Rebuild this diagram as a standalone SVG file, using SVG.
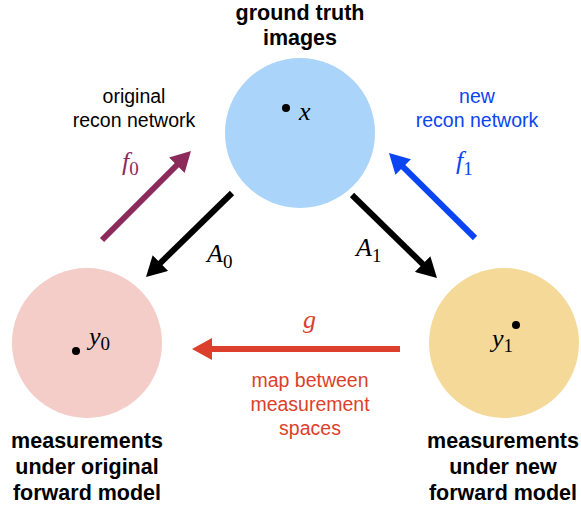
<svg xmlns="http://www.w3.org/2000/svg" width="581" height="506" viewBox="0 0 581 506">
<style>
.bold{font-family:"Liberation Sans",Arial,sans-serif;font-weight:bold;font-size:21.5px;fill:#000;text-anchor:middle}
.lab{font-family:"Liberation Sans",Arial,sans-serif;font-size:19.5px;text-anchor:middle}
.math{font-family:"Liberation Serif","Times New Roman",serif;font-style:italic;font-size:26px}
.sub{font-family:"Liberation Serif","Times New Roman",serif;font-style:normal;font-size:19px}
.arr{stroke-width:6;fill:none}
</style>
<defs>
<marker id="hk" markerUnits="userSpaceOnUse" viewBox="0 0 20 22" markerWidth="20" markerHeight="22" refX="8" refY="11" orient="auto"><path d="M0,0 L20,11 L0,22 z" fill="#000"/></marker>
<marker id="hp" markerUnits="userSpaceOnUse" viewBox="0 0 20 22" markerWidth="20" markerHeight="22" refX="8" refY="11" orient="auto"><path d="M0,0 L20,11 L0,22 z" fill="#8c2a5c"/></marker>
<marker id="hb" markerUnits="userSpaceOnUse" viewBox="0 0 20 22" markerWidth="20" markerHeight="22" refX="8" refY="11" orient="auto"><path d="M0,0 L20,11 L0,22 z" fill="#0b44f2"/></marker>
<marker id="hr" markerUnits="userSpaceOnUse" viewBox="0 0 20 22" markerWidth="20" markerHeight="22" refX="8" refY="11" orient="auto"><path d="M0,0 L20,11 L0,22 z" fill="#dc3f2b"/></marker>
</defs>
<rect width="581" height="506" fill="#fff"/>

<g id="node-x">
<text class="bold" x="300" y="20">ground truth</text>
<text class="bold" x="300" y="45">images</text>
<circle cx="300" cy="133" r="75" fill="#aad4f9"/>
<circle cx="286" cy="108" r="4" fill="#000"/>
<text class="math" x="299" y="120">x</text>
</g>

<g id="node-y0">
<circle cx="87" cy="343" r="75" fill="#f4cdc8"/>
<circle cx="76" cy="351" r="4" fill="#000"/>
<text class="math" x="89" y="345">y<tspan class="sub" dy="5">0</tspan></text>
<text class="bold" x="87" y="448">measurements</text>
<text class="bold" x="87" y="474">under original</text>
<text class="bold" x="87" y="500">forward model</text>
</g>

<g id="node-y1">
<circle cx="504" cy="343" r="75" fill="#f5d999"/>
<circle cx="516" cy="325" r="4" fill="#000"/>
<text class="math" x="492" y="347">y<tspan class="sub" dy="5">1</tspan></text>
<text class="bold" x="503" y="448">measurements</text>
<text class="bold" x="503" y="474">under new</text>
<text class="bold" x="503" y="500">forward model</text>
</g>

<g id="connectors">
<line class="arr" x1="102" y1="240" x2="182.5" y2="159.5" stroke="#8c2a5c" marker-end="url(#hp)"/>
<line class="arr" x1="232" y1="193" x2="154.6" y2="268.6" stroke="#000" marker-end="url(#hk)"/>
<line class="arr" x1="352" y1="195" x2="428.4" y2="269.6" stroke="#000" marker-end="url(#hk)"/>
<line class="arr" x1="475" y1="238" x2="397.5" y2="161.4" stroke="#0b44f2" marker-end="url(#hb)"/>
<line class="arr" x1="400" y1="349" x2="204" y2="349" stroke="#dc3f2b" marker-end="url(#hr)"/>

<text class="lab" x="134" y="103" fill="#000">original</text>
<text class="lab" x="134" y="127" fill="#000">recon network</text>
<text class="math" x="122" y="170" fill="#8c2a5c">f<tspan class="sub" dy="5">0</tspan></text>

<text class="lab" x="477" y="103" fill="#0b44f2">new</text>
<text class="lab" x="477" y="127" fill="#0b44f2">recon network</text>
<text class="math" x="456" y="169" fill="#0b44f2">f<tspan class="sub" dy="6">1</tspan></text>

<text class="math" x="207" y="262" fill="#000">A<tspan class="sub" dy="6">0</tspan></text>
<text class="math" x="356" y="256" fill="#000">A<tspan class="sub" dy="6">1</tspan></text>

<text class="math" x="303" y="328" fill="#dc3f2b">g</text>
<text class="lab" x="310" y="387" fill="#dc3f2b">map between</text>
<text class="lab" x="310" y="411" fill="#dc3f2b">measurement</text>
<text class="lab" x="310" y="435" fill="#dc3f2b">spaces</text>
</g>
</svg>
